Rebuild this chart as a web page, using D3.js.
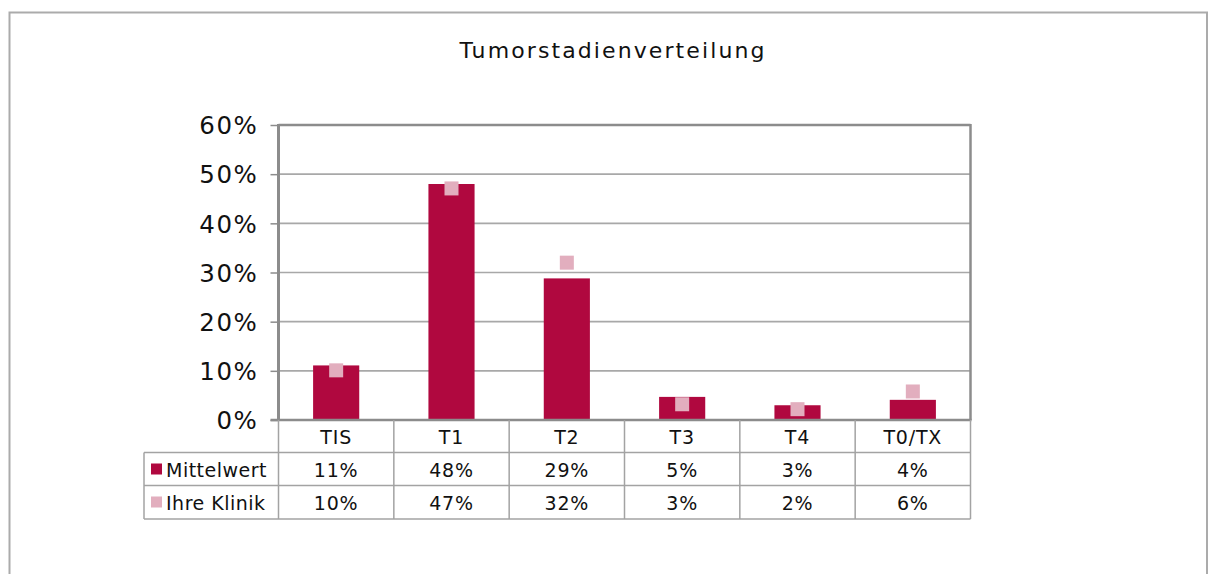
<!DOCTYPE html>
<html><head><meta charset="utf-8">
<script src="https://cdn.jsdelivr.net/npm/d3@7"></script>
<style>
html,body{margin:0;padding:0;background:#fff;}
svg{display:block;font-family:"DejaVu Sans",Verdana,sans-serif;}
</style></head>
<body>
<script>
const categories = ["TIS","T1","T2","T3","T4","T0/TX"];
const seriesNames = ["Mittelwert","Ihre Klinik"];
const mittelwert = [0.111,0.480,0.288,0.047,0.030,0.041];
const klinik = [0.101,0.471,0.320,0.032,0.022,0.058];
const mittelwertLabels = ["11%","48%","29%","5%","3%","4%"];
const klinikLabels = ["10%","47%","32%","3%","2%","6%"];
const yTicks = [0,0.1,0.2,0.3,0.4,0.5,0.6];
const colors = {bar:"#b0083f", marker:"#e2aebe"};

(function(){
const W=1208,H=574;
const svg=d3.select("body").append("svg").attr("width",W).attr("height",H);

// outer frame
svg.append("rect").attr("x",9.5).attr("y",12.5).attr("width",1197.5).attr("height",580)
  .attr("fill","none").attr("stroke","#ababab").attr("stroke-width",2);

svg.append("text").attr("x",613).attr("y",58).attr("text-anchor","middle")
  .attr("font-size",22).attr("letter-spacing",2.1).attr("fill","#111").text("Tumorstadienverteilung");

const pLeft=278.5,pRight=970.5,pTop=125,pBottom=420;
const x=d3.scaleBand().domain(categories).range([pLeft,pRight]).paddingInner(0).paddingOuter(0);
const y=d3.scaleLinear().domain([0,0.6]).range([pBottom,pTop]);

// gridlines
svg.append("g").selectAll("line").data(yTicks.filter(d=>d>0)).join("line")
  .attr("x1",pLeft).attr("x2",pRight).attr("y1",d=>y(d)).attr("y2",d=>y(d))
  .attr("stroke",d=>d===0.6?"#8c8c8c":"#a8a8a8").attr("stroke-width",d=>d===0.6?2.5:1.6);

// right border
svg.append("line").attr("x1",pRight).attr("x2",pRight).attr("y1",pTop-1).attr("y2",pBottom)
  .attr("stroke","#8c8c8c").attr("stroke-width",2.5);

// y axis
const yAxis=d3.axisLeft(y).tickValues(yTicks).tickFormat(d3.format(".0%")).tickSize(8).tickPadding(12);
const ga=svg.append("g").attr("transform",`translate(${pLeft},0)`).call(yAxis);
ga.select(".domain").remove();
ga.selectAll(".tick line").attr("stroke","#8c8c8c").attr("stroke-width",1.5);
ga.selectAll(".tick text").attr("font-size",24.5).attr("letter-spacing",1.6).attr("fill","#111")
  .attr("font-family","DejaVu Sans, sans-serif").attr("dy","0.36em");
svg.append("line").attr("x1",pLeft).attr("x2",pLeft).attr("y1",pTop-1).attr("y2",pBottom)
  .attr("stroke","#8c8c8c").attr("stroke-width",3);

// bars
const bw=x.bandwidth()*0.4;
svg.append("g").selectAll("rect").data(categories).join("rect")
  .attr("x",d=>x(d)+(x.bandwidth()-bw)/2).attr("width",bw)
  .attr("y",(d,i)=>y(mittelwert[i])).attr("height",(d,i)=>pBottom-y(mittelwert[i]))
  .attr("fill",colors.bar);

// markers
const ms=14;
svg.append("g").selectAll("rect").data(categories).join("rect")
  .attr("x",d=>x(d)+x.bandwidth()/2-ms/2).attr("width",ms)
  .attr("y",(d,i)=>y(klinik[i])-ms/2).attr("height",ms)
  .attr("fill",colors.marker);

// bottom axis line
svg.append("line").attr("x1",pLeft-8).attr("x2",pRight+1).attr("y1",pBottom).attr("y2",pBottom)
  .attr("stroke","#8c8c8c").attr("stroke-width",2.5);

// data table
const tblLeft=144,rows=[420,452.5,485.5,519];
const tc="#a3a3a3";
const tg=svg.append("g");
[rows[1],rows[2],rows[3]].forEach(yy=>{
  tg.append("line").attr("x1",tblLeft).attr("x2",pRight).attr("y1",yy).attr("y2",yy).attr("stroke",tc).attr("stroke-width",1.5);
});
const bounds=categories.map(c=>x(c)).concat([pRight]);
bounds.forEach(bx=>{
  tg.append("line").attr("x1",bx).attr("x2",bx).attr("y1",rows[0]).attr("y2",rows[3]).attr("stroke",tc).attr("stroke-width",1.5);
});
tg.append("line").attr("x1",tblLeft).attr("x2",tblLeft).attr("y1",rows[1]).attr("y2",rows[3]).attr("stroke",tc).attr("stroke-width",1.5);

const fs=19;
tg.selectAll("text.h").data(categories).join("text").attr("class","h")
  .attr("x",d=>x(d)+x.bandwidth()/2).attr("y",444).attr("text-anchor","middle")
  .attr("font-size",fs).attr("letter-spacing",0.8).attr("fill","#111").text(d=>d);
tg.selectAll("text.m").data(categories).join("text").attr("class","m")
  .attr("x",d=>x(d)+x.bandwidth()/2).attr("y",476.5).attr("text-anchor","middle")
  .attr("font-size",fs).attr("letter-spacing",0.8).attr("fill","#111").text((d,i)=>mittelwertLabels[i]);
tg.selectAll("text.k").data(categories).join("text").attr("class","k")
  .attr("x",d=>x(d)+x.bandwidth()/2).attr("y",509.5).attr("text-anchor","middle")
  .attr("font-size",fs).attr("letter-spacing",0.8).attr("fill","#111").text((d,i)=>klinikLabels[i]);

const lg=[{name:seriesNames[0],color:colors.bar,y:469},{name:seriesNames[1],color:colors.marker,y:502}];
lg.forEach(l=>{
  tg.append("rect").attr("x",151).attr("y",l.y-5.5).attr("width",11).attr("height",11).attr("fill",l.color);
  tg.append("text").attr("x",166).attr("y",l.y+7.5).attr("font-size",fs).attr("letter-spacing",0.5).attr("fill","#111").text(l.name);
});
})();
</script>
</body></html>
